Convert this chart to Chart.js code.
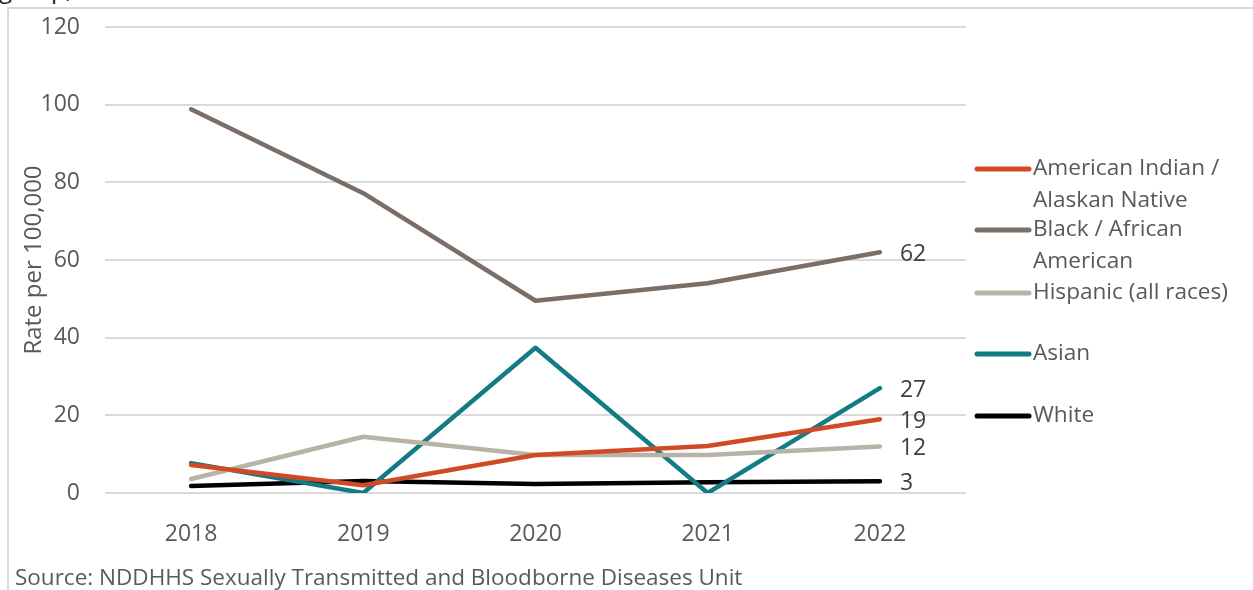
<!DOCTYPE html>
<html>
<head>
<meta charset="utf-8">
<script src="https://cdn.jsdelivr.net/npm/chart.js@4"></script>
<style>
  html,body{margin:0;padding:0;background:#fff;overflow:hidden;}
  body{width:1253px;height:590px;position:relative;font-family:"Open Sans",sans-serif;}
  #frame{position:absolute;left:7px;top:7px;width:1246px;height:583px;border-left:2px solid #d9d9d9;border-top:2px solid #d9d9d9;box-sizing:border-box;}
  #wrap{position:absolute;left:0;top:0;width:1253px;height:590px;}
  #head{position:absolute;left:-1px;top:-28px;font-size:24px;color:#222;white-space:nowrap;}
  #source{position:absolute;left:15px;top:561px;font-size:22.5px;color:#595959;white-space:nowrap;}
</style>
</head>
<body>
<div id="head">group,</div>
<div id="frame"></div>
<div id="wrap"><canvas id="chartRates"></canvas></div>
<div id="source">Source: NDDHHS Sexually Transmitted and Bloodborne Diseases Unit</div>
<script>
const years=['2018','2019','2020','2021','2022'];
const aian=[7.2,2.0,9.8,12.1,19];
const black=[98.8,77.2,49.5,54.0,62];
const hispanic=[3.6,14.5,9.8,9.8,12];
const asian=[7.7,0,37.4,0,27];
const white=[1.8,3.1,2.3,2.8,3];
const yTicks=[0,20,40,60,80,100,120];

const C={
  aian:'#D24A25',black:'#7A6E67',hisp:'#B9B3A7',asian:'#137B84',white:'#000000',
  grid:'#d9d9d9',text:'#595959',label:'#404040'
};
const FONT='"Open Sans", sans-serif';

function ds(label,legend,data,color){
  return {label,legendLines:legend,data,borderColor:color,backgroundColor:color,
    borderWidth:4.5,pointRadius:0,tension:0,borderCapStyle:'round',borderJoinStyle:'round'};
}

// value at the last point of each series
const endLabels={
  id:'endLabels',
  afterDatasetsDraw(chart){
    const ctx=chart.ctx;
    ctx.save();
    ctx.font='23px '+FONT;ctx.fillStyle=C.label;ctx.textBaseline='middle';ctx.textAlign='left';
    chart.data.datasets.forEach((d,i)=>{
      const pts=chart.getDatasetMeta(i).data;
      const p=pts[pts.length-1];
      ctx.fillText(String(d.data[d.data.length-1]),p.x+20,p.y+2);
    });
    ctx.restore();
  }
};

// legend on the right with wrapped labels
const sideLegend={
  id:'sideLegend',
  afterDraw(chart){
    const ctx=chart.ctx;
    const rows=[169,230,293,354,416];
    ctx.save();
    ctx.font='22.6px '+FONT;ctx.textBaseline='middle';ctx.textAlign='left';
    chart.data.datasets.forEach((d,i)=>{
      const y=rows[i];
      ctx.strokeStyle=d.borderColor;ctx.lineWidth=5;ctx.lineCap='round';
      ctx.beginPath();ctx.moveTo(977,y);ctx.lineTo(1029,y);ctx.stroke();
      ctx.fillStyle=C.text;
      d.legendLines.forEach((t,j)=>ctx.fillText(t,1033,y+j*32));
    });
    ctx.restore();
  }
};

new Chart(document.getElementById('chartRates'),{
  type:'line',
  data:{labels:years,datasets:[
    ds('American Indian / Alaskan Native',['American Indian /','Alaskan Native'],aian,C.aian),
    ds('Black / African American',['Black / African','American'],black,C.black),
    ds('Hispanic (all races)',['Hispanic (all races)'],hispanic,C.hisp),
    ds('Asian',['Asian'],asian,C.asian),
    ds('White',['White'],white,C.white)
  ]},
  options:{
    responsive:true,maintainAspectRatio:false,animation:false,
    layout:{padding:{left:20,right:287,top:27,bottom:0}},
    plugins:{legend:{display:false},tooltip:{enabled:false}},
    scales:{
      x:{offset:true,grid:{display:false},border:{display:false},
         ticks:{color:C.text,font:{family:FONT,size:23},padding:20},
         afterFit:s=>{s.height=97;s.paddingLeft=0;s.paddingRight=0;}},
      y:{min:0,max:120,grid:{color:C.grid,lineWidth:2,drawTicks:false},border:{display:false},
         afterBuildTicks:s=>{s.ticks=yTicks.map(v=>({value:v}));},
         ticks:{color:C.text,font:{family:FONT,size:23},padding:25},
         title:{display:true,text:'Rate per 100,000',color:C.text,font:{family:FONT,size:24},padding:0},
         afterFit:s=>{s.width=85;s.paddingTop=0;s.paddingBottom=0;}}
    }
  },
  plugins:[endLabels,sideLegend]
});
</script>
</body>
</html>
